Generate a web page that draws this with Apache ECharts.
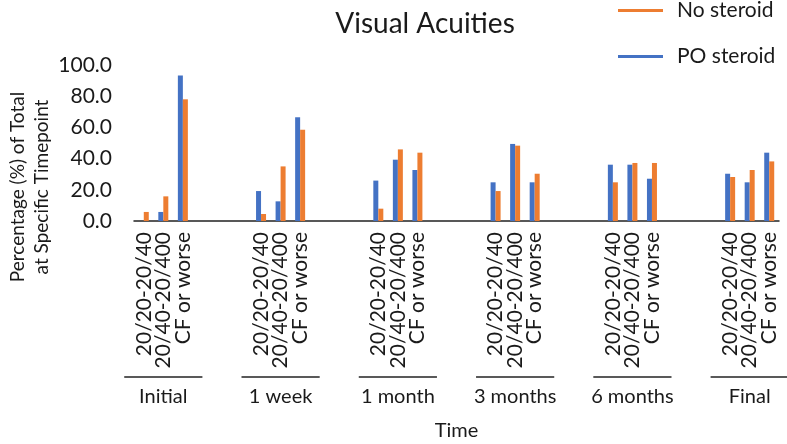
<!DOCTYPE html>
<html>
<head>
<meta charset="utf-8">
<script src="https://cdn.jsdelivr.net/npm/echarts@6/dist/echarts.min.js"></script>
<style>
html,body{margin:0;padding:0;background:#fff;}
#chart{width:787px;height:444px;}
</style>
</head>
<body>
<div id="chart"></div>
<script>
// ---- data ----
var timepoints = ['Initial', '1 week', '1 month', '3 months', '6 months', 'Final'];
var acuityLevels = ['20/20-20/40', '20/40-20/400', 'CF or worse'];
// values per timepoint, in acuityLevels order
var poSteroid = [0, 5.8, 93.2, 19.2, 12.6, 66.5, 25.9, 39.3, 32.7, 24.8, 49.4, 24.8, 36.1, 36.1, 27.1, 30.3, 24.8, 43.8];
var noSteroid = [5.8, 15.8, 78.0, 4.5, 35.0, 58.5, 7.9, 45.9, 43.8, 19.2, 48.3, 30.3, 24.8, 37.2, 37.2, 28.2, 32.7, 38.2];
var yTicks = [0, 20, 40, 60, 80, 100];

var FONT = 'Lato';
var TXT = '#1a1a1a';
var gapSlots = 3;

// build category slots with empty gap slots between timepoints
var slotLabels = [], slotGroup = [], poData = [], noData = [], groupMid = [];
timepoints.forEach(function (t, g) {
  if (g > 0) {
    for (var k = 0; k < gapSlots; k++) {
      slotLabels.push(''); slotGroup.push(''); poData.push(null); noData.push(null);
    }
  }
  acuityLevels.forEach(function (a, j) {
    var idx = slotLabels.length;
    slotLabels.push(a);
    slotGroup.push(j === 1 ? t : '');
    if (j === 1) groupMid.push([idx, 0]);
    poData.push(poSteroid[g * 3 + j]);
    noData.push(noSteroid[g * 3 + j]);
  });
});

var chart = echarts.init(document.getElementById('chart'));
chart.setOption({
  animation: false,
  backgroundColor: '#fff',
  title: {
    text: 'Visual Acuities',
    left: 420, textAlign: 'center', top: 5,
    textStyle: {fontFamily: FONT, fontSize: 28, fontWeight: 'normal', color: TXT}
  },
  legend: {
    data: ['No steroid', 'PO steroid'],
    orient: 'vertical', left: 618, top: 0, padding: 0,
    icon: 'rect', itemWidth: 45, itemHeight: 3, itemGap: 25,
    textStyle: {fontFamily: FONT, fontSize: 21, color: TXT, padding: [0, 0, 0, 9]}
  },
  grid: {left: 134, right: 8, top: 65, bottom: 223},
  xAxis: [{
    type: 'category', data: slotLabels,
    axisLine: {lineStyle: {color: '#222', width: 1.5}},
    axisTick: {show: false},
    axisLabel: {interval: 0, rotate: 90, margin: 11, fontFamily: FONT, fontSize: 21, color: TXT},
    name: 'Time', nameLocation: 'middle', nameGap: 200,
    nameTextStyle: {fontFamily: FONT, fontSize: 20, color: TXT}
  }, {
    type: 'category', data: slotGroup, position: 'bottom', offset: 160,
    axisLine: {show: false}, axisTick: {show: false},
    axisLabel: {interval: 0, margin: 6, fontFamily: FONT, fontSize: 20, color: TXT}
  }],
  yAxis: {
    type: 'value', min: yTicks[0], max: yTicks[yTicks.length - 1], interval: 20,
    axisLine: {show: false}, axisTick: {show: false}, splitLine: {show: false},
    axisLabel: {margin: 22, fontFamily: FONT, fontSize: 21, color: TXT,
      formatter: function (v) { return v.toFixed(1); }}
  },
  graphic: [{
    type: 'text', x: 30, y: 187, rotation: Math.PI / 2,
    style: {text: 'Percentage (%) of Total\nat Specific Timepoint', font: '19px ' + FONT,
      align: 'center', verticalAlign: 'middle', lineHeight: 24, fill: TXT}
  }],
  series: [{
    name: 'PO steroid', type: 'bar', data: poData, barWidth: 5, barGap: '0%',
    itemStyle: {color: '#4472C4'}
  }, {
    name: 'No steroid', type: 'bar', data: noData, barWidth: 5, barGap: '0%',
    itemStyle: {color: '#ED7D31'}
  }, {
    type: 'custom', data: groupMid, clip: false, silent: true,
    encode: {x: 0, y: 1},
    renderItem: function (params, api) {
      var p = api.coord([api.value(0), 0]);
      var w = api.size([1, 0])[0];
      var y = p[1] + 156;
      return {type: 'line', shape: {x1: p[0] - 2 * w, y1: y, x2: p[0] + 2 * w, y2: y},
        style: {stroke: '#222', lineWidth: 1.5}};
    }
  }]
});
</script>
</body>
</html>
